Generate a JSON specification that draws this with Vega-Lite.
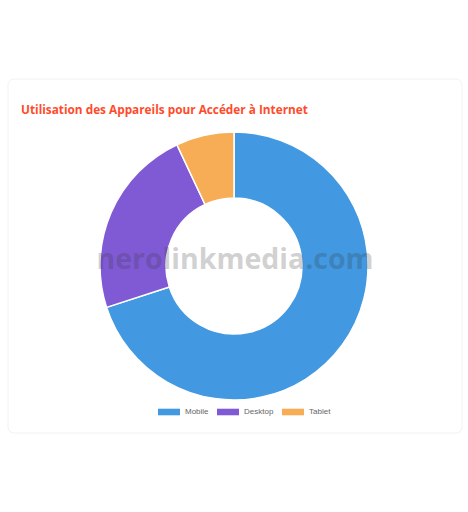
{
  "$schema": "https://vega.github.io/schema/vega-lite/v6.json",
  "autosize": {"type": "fit", "contains": "padding"},
  "width": 468,
  "height": 512,
  "padding": {"left": 7, "right": 5, "top": 78, "bottom": 78},
  "background": "white",
  "title": {
    "text": "Utilisation des Appareils pour Accéder à Internet",
    "anchor": "start",
    "frame": "group",
    "color": "#ff4b2b",
    "font": "Open Sans",
    "fontWeight": "bold",
    "fontSize": 11.8,
    "baseline": "alphabetic",
    "dx": 13,
    "offset": -47
  },
  "config": {
    "view": {"stroke": null},
    "legend": {
      "orient": "none",
      "direction": "horizontal",
      "legendX": 150,
      "legendY": 322,
      "title": null,
      "labelFont": "Liberation Sans",
      "labelFontSize": 8,
      "labelColor": "#666666",
      "symbolType": "M-1,-0.3H1V0.3H-1Z",
      "symbolSize": 484,
      "symbolStrokeWidth": 0,
      "symbolOpacity": 1,
      "labelOffset": 5,
      "columnPadding": 8
    }
  },
  "data": {
    "values": [
      {"device": "Mobile", "share": 70},
      {"device": "Desktop", "share": 23},
      {"device": "Tablet", "share": 7}
    ]
  },
  "layer": [
    {
      "data": {"values": [{"card": "shadow"}]},
      "mark": {
        "type": "rect",
        "fill": "#e3e3e3",
        "cornerRadius": 6,
        "yOffset": 1.5
      },
      "encoding": {}
    },
    {
      "data": {"values": [{"card": "card"}]},
      "mark": {
        "type": "rect",
        "fill": "white",
        "stroke": "#f2f2f2",
        "strokeWidth": 1,
        "cornerRadius": 6
      },
      "encoding": {}
    },
    {
      "mark": {
        "type": "arc",
        "radius": 134,
        "radius2": 68,
        "stroke": "white",
        "strokeWidth": 1.5,
        "xOffset": -1,
        "yOffset": 10
      },
      "encoding": {
        "theta": {"field": "share", "type": "quantitative", "stack": true},
        "order": {"field": "share", "sort": "descending"},
        "color": {
          "field": "device",
          "type": "nominal",
          "sort": ["Mobile", "Desktop", "Tablet"],
          "scale": {
            "domain": ["Mobile", "Desktop", "Tablet"],
            "range": ["#4299e1", "#805ad5", "#f6ad55"]
          }
        }
      }
    },
    {
      "data": {"values": [{"label": "nerolinkmedia.com"}]},
      "mark": {
        "type": "text",
        "font": "Open Sans",
        "fontWeight": "bold",
        "fontSize": 28.5,
        "color": "#333333",
        "opacity": 0.22,
        "baseline": "middle",
        "yOffset": 4
      },
      "encoding": {"text": {"field": "label"}}
    }
  ]
}
